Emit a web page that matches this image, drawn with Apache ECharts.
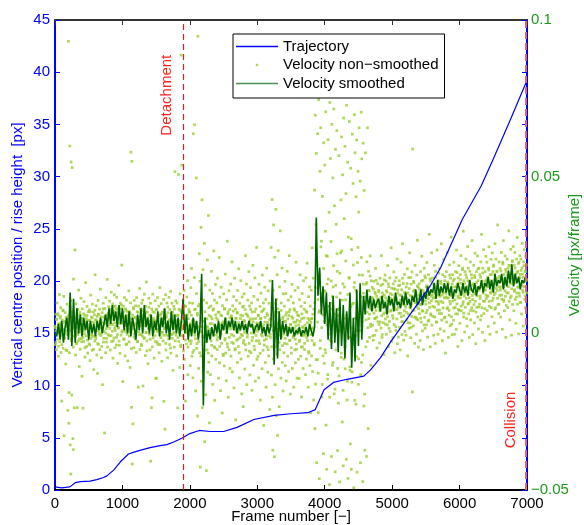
<!DOCTYPE html>
<html>
<head>
<meta charset="utf-8">
<script src="https://cdn.jsdelivr.net/npm/echarts@6/dist/echarts.min.js"></script>
<style>
  html, body { margin: 0; padding: 0; background: #fff; }
  #chart { width: 584px; height: 525px; }
</style>
</head>
<body>
<div id="chart"></div>
<script>
  // raw velocity, one value every 5 frames, in 1e-3 px/frame
  var rawStep = 5;
  var velRaw = [
    2.3,-3.6,6.1,0.8,-5.2,4.4,9.7,-1.9,0.4,5.8,-7.3,3.1,1.6,12.4,-2.7,4.9,-0.6,8.2,-6.1,2.5,
    -21.6,4.2,0.7,7.4,-4.8,1.3,11.8,-32.7,3.5,-1.4,6.6,-0.3,-9.8,5.1,2.2,-5.5,9.3,0.9,-24.6,5.7,
    93.2,-28.7,-18.9,4.6,59.8,-35.6,10.4,-44.9,54.7,-1.8,-19.7,52.9,6.8,-33.6,-37.1,17.3,-0.9,-23.8,5.2,26.6,
    3.2,-6.9,9.4,1.7,-3.3,5.9,-23.7,-0.4,7.6,-2.4,13.8,4.1,-10.6,2.6,6.7,-5.1,0.5,11.2,-1.7,4.8,
    -13.7,7.8,1.4,-23.9,4.3,-2.6,10.1,-0.2,5.7,-7.6,3.3,16.2,-0.8,4.7,-4.2,8.6,1.9,-6.3,2.7,6.9,
    0.6,-3.4,7.5,4.1,-8.7,2.4,12.2,-1.6,5.2,-0.5,-5.4,9.3,3.6,-0.9,6.8,-11.6,1.8,5.9,-2.5,18.7,
    4.3,-1.7,8.8,0.9,-6.9,5.4,-12.8,2.6,10.5,-3.5,6.1,-0.1,7.7,-5.2,1.7,14.1,-0.7,4.2,-7.8,3.4,
    6.6,-16.4,2.3,9.6,-2.8,5.1,0.6,-31.8,7.9,3.2,-6.2,11.4,1.5,-1.6,5.9,17.2,-4.4,4.3,-0.4,8.5,
    5.2,-0.8,10.3,2.8,-5.3,7.6,3.4,13.1,-2.6,6.2,0.7,9.4,-7.9,4.4,6.9,-1.5,12.3,1.6,-4.6,8.7,
    2.4,7.7,-3.7,11.5,5.3,-0.4,-9.6,6.8,1.7,15.3,-2.5,6.1,3.3,-6.4,9.6,4.2,-0.6,7.9,21.8,0.8,
    6.1,-15.4,3.3,8.7,-1.8,5.3,11.4,0.6,-7.2,7.8,2.4,-3.6,10.6,4.3,-0.3,6.9,-8.8,5.1,1.4,13.6,
    -2.7,6.9,3.2,-10.9,9.7,57.8,0.4,-23.6,54.9,-41.7,5.8,-28.9,2.3,7.8,-4.6,10.5,-0.2,5.1,-1.8,8.8,
    3.3,-6.1,11.4,1.5,6.9,-2.6,4.9,-17.2,8.7,0.5,4.1,14.3,-5.2,2.4,7.8,-0.4,-3.5,9.6,5.8,-0.9,
    10.6,-16.8,4.2,7.7,-1.6,12.5,2.4,5.9,-7.1,8.6,0.3,16.4,3.3,-2.4,6.8,4.9,-9.7,1.6,11.2,3.9,
    -0.3,5.8,-5.3,9.6,-40.8,2.2,-23.7,7.7,-20.6,4.1,12.5,-1.5,4.8,0.4,-7.9,6.7,3.1,10.4,-2.6,-14.4,
    3.8,-14.3,7.6,0.6,11.4,-3.5,4.9,1.3,8.7,-6.2,2.2,14.6,-0.5,5.8,-1.4,9.5,3.2,-8.9,6.7,0.4,
    4.7,-2.4,10.8,-21.7,1.5,7.5,-30.6,3.1,12.3,-5.3,5.8,-0.6,9.7,2.2,-7.8,6.6,3.8,-0.7,11.5,1.3,
    -3.6,7.6,2.1,13.4,-6.3,4.8,-0.4,9.6,-1.6,6.7,-11.8,3.2,8.6,0.3,-4.4,5.7,51.6,2.3,10.4,-0.6,
    4.1,-7.2,9.7,1.4,-23.8,5.8,50.7,-2.6,7.7,0.2,-10.9,12.6,3.1,-4.3,88.8,6.7,53.7,-0.8,4.9,2.2,
    10.4,-5.6,2.2,13.7,-8.3,5.8,0.3,-21.6,8.6,3.2,-3.4,11.6,1.3,16.8,-13.2,4.7,-0.5,7.6,-2.4,9.7,
    6.8,-10.3,3.1,14.6,-2.4,20.7,-7.3,3.9,9.6,-14.2,63.7,0.9,-5.4,17.8,66.6,-0.6,7.7,-18.4,2.3,49.6,
    12.7,-3.3,5.8,-26.4,94.8,8.7,-11.2,2.2,25.4,-6.2,16.6,-42.7,0.4,33.8,-15.3,6.6,42.6,-23.7,3.9,20.3,
    -8.4,10.6,-1.3,28.7,-34.6,4.8,15.4,-19.6,2.1,-43.8,9.7,-5.3,23.4,-12.4,1.2,37.6,-9.2,5.7,-28.6,13.8,
    3.1,-13.2,8.7,-2.4,19.8,-7.2,4.6,12.7,-16.3,0.4,7.8,26.3,-4.3,10.6,-21.4,2.2,15.6,-8.3,4.9,-0.5,
    9.7,-5.2,17.6,-1.3,6.7,-14.3,2.9,24.2,-9.4,11.6,-0.6,-18.3,5.8,14.7,-3.2,2.1,-25.4,8.8,3.7,-7.1,
    12.6,1.3,-10.4,7.7,-2.2,18.9,-6.3,4.6,-15.1,10.7,0.2,29.4,-4.3,6.8,-20.4,2.9,13.6,-1.3,7.6,-11.2,
    2.1,15.7,-7.3,5.6,-0.4,22.8,-12.3,8.8,3.9,-3.2,11.7,-17.4,1.2,17.6,-5.3,7.7,-27.6,4.8,10.5,-2.2,
    6.7,-9.3,13.7,0.3,-4.2,20.6,2.8,-14.2,9.6,-1.4,4.7,16.8,-8.2,2.1,-19.3,11.6,-0.7,5.6,-23.4,8.6,
    -2.3,12.6,3.8,-11.4,7.6,24.8,-5.3,1.1,15.7,-16.4,5.9,-0.3,10.6,-7.3,2.8,19.7,-3.2,8.7,-13.3,4.6,
    14.6,-6.2,2.1,9.7,-18.2,6.8,-1.3,21.7,3.6,-10.2,11.8,0.1,-5.2,17.7,-15.3,4.7,7.8,-2.4,27.4,-8.3,
    1.2,10.7,-7.4,5.8,-14.2,15.6,2.9,-3.3,8.6,-21.3,4.7,12.8,-0.4,6.9,-11.3,18.6,1.8,-5.4,9.7,-29.4,
    7.8,-2.2,14.7,3.6,-9.3,10.8,-17.2,0.9,20.8,-4.3,5.7,-12.4,13.6,-0.8,-7.2,9.6,2.7,-24.3,16.7,-1.3,
    4.7,27.4,-13.3,8.6,42.7,-20.4,-37.3,13.7,34.6,-8.2,1.8,-39.4,24.3,-16.4,6.7,39.6,-26.3,10.8,-4.2,18.7,
    -32.6,7.8,26.4,-11.3,2.9,-23.4,14.8,-5.2,32.7,0.8,-14.3,9.7,-1.2,20.8,-9.3,4.7,-18.4,12.6,-0.3,-6.2,
    8.7,-3.2,16.6,-10.3,3.8,12.7,-15.2,6.6,-0.4,19.8,-7.3,1.9,10.6,-12.2,5.7,24.8,-2.3,7.6,-19.4,2.8,
    11.7,-6.3,0.8,15.6,-11.2,4.8,-1.3,9.7,-17.2,7.8,1.6,-5.3,13.7,-9.4,3.6,22.7,-3.4,6.7,-14.3,-0.2,
    5.8,14.6,-8.3,2.7,-14.4,10.8,-2.2,18.7,0.7,-7.3,8.6,-20.3,4.7,12.7,-4.3,1.8,-11.2,16.8,-0.6,7.7,
    -5.2,9.8,2.6,-13.2,17.7,-0.3,-8.2,6.7,22.4,-2.3,4.8,-17.2,11.7,-6.3,0.9,14.8,-10.3,8.7,-25.4,3.6,
    13.8,-7.2,4.7,27.3,-12.2,1.8,17.6,-21.3,7.7,-3.3,45.7,-30.4,69.6,-16.2,34.7,57.4,-41.3,21.6,-8.4,63.7,
    10.8,-25.3,74.6,6.7,-46.4,18.8,51.7,-2.3,65.6,12.7,29.4,1.8,-20.3,43.7,77.6,-7.2,-38.4,60.8,13.6,3.8,
    53.7,-5.2,32.6,70.7,-29.3,6.8,-43.4,15.7,24.6,-13.2,61.8,-0.3,8.7,38.6,-48.3,73.7,-2.2,55.8,9.6,16.7,
    -39.3,66.7,7.8,-10.2,49.6,14.8,3.7,71.6,-19.3,40.7,2.6,-44.2,58.7,-5.3,34.8,11.6,64.7,19.8,-37.4,5.7,
    7.6,-22.3,56.7,0.8,-47.4,75.6,12.8,25.7,42.6,-6.3,62.7,0.4,-28.3,50.6,15.8,-42.3,68.7,-8.2,36.6,4.8,
    59.7,-11.3,10.7,44.6,-40.2,72.8,2.7,-15.3,54.6,-46.3,30.7,4.6,17.8,67.6,-1.3,-11.8,-35.3,52.7,8.8,-43.4,
    26.7,-12.3,63.6,1.7,47.8,9.6,-49.3,14.7,69.8,-21.4,57.6,-0.7,13.8,43.6,-7.4,61.7,-44.3,22.6,5.8,51.7,
    -16.3,38.7,65.6,0.9,6.7,48.6,-41.3,11.7,70.6,-9.3,55.7,3.8,18.6,-47.3,60.7,12.8,-23.2,45.6,7.7,-37.3,
    9.8,57.6,-4.3,15.7,-39.3,22.8,6.7,65.6,1.8,-30.4,19.8,4.7,13.6,-1.3,7.8,24.7,2.9,-10.2,16.8,8.7,
    8.3,14.7,2.6,11.3,-2.2,16.6,6.4,10.2,-0.6,13.1,4.8,20.7,7.3,0.9,11.8,-4.7,9.4,15.8,3.7,10.6,
    13.7,2.8,9.3,-3.1,17.6,7.2,11.4,1.7,24.8,5.6,-1.3,12.9,8.2,15.7,3.4,10.1,-6.8,12.2,6.6,18.6,
    4.6,11.3,16.7,-0.3,8.4,13.2,2.7,21.6,6.8,-4.2,14.9,9.6,3.8,17.7,0.6,11.2,7.4,27.3,-2.6,10.3,
    12.3,5.7,-1.4,15.8,9.2,19.6,2.8,11.3,-6.2,14.1,7.6,0.9,17.8,10.4,4.6,23.7,-3.3,12.8,8.3,15.2,
    6.4,16.8,1.9,12.2,-5.3,10.6,22.7,5.3,13.9,-0.4,9.3,28.6,3.7,15.9,-2.2,11.4,7.2,18.8,0.6,12.7,
    8.3,-0.6,14.8,11.3,4.4,20.6,-7.2,12.9,6.2,17.8,1.6,10.2,25.7,3.3,12.1,-1.4,15.7,9.2,5.4,19.6,
    -18.7,58.8,11.2,2.4,16.6,7.3,13.8,-3.2,21.7,10.3,5.2,12.9,-0.3,18.6,8.4,29.7,4.3,14.8,-4.4,12.2,
    15.8,6.3,11.4,-2.3,19.7,9.2,3.6,13.8,24.6,7.2,0.8,16.9,10.3,-5.2,12.7,20.8,5.1,11.9,1.6,17.7,
    9.3,14.8,2.7,22.6,7.4,-1.2,13.9,11.1,18.7,4.2,31.6,8.3,12.8,-4.3,16.7,6.2,10.4,25.7,2.6,12.3,
    17.6,5.4,11.2,-0.6,15.8,21.7,8.3,12.9,-3.2,19.8,10.2,3.6,14.9,26.6,7.4,12.1,-0.3,16.8,9.3,13.7,
    6.3,20.7,11.8,1.4,15.9,10.2,28.6,4.2,13.8,-2.3,18.7,8.1,12.9,23.6,0.7,11.3,16.8,5.2,-6.3,14.8,
    12.8,19.7,3.6,11.3,25.8,8.2,15.9,-1.3,13.7,7.3,21.8,10.2,2.4,17.6,12.1,30.7,5.3,14.8,-0.4,18.7,
    10.3,16.8,4.2,22.7,12.1,-0.3,14.8,8.2,19.7,12.9,1.3,26.6,9.4,15.8,6.2,-4.2,17.7,11.3,21.6,7.3,
    13.8,3.2,18.7,11.3,24.8,7.2,15.9,-2.3,12.7,20.8,9.3,32.6,5.2,16.8,11.9,0.4,19.7,8.3,14.6,23.7,
    11.2,17.8,2.3,14.9,27.7,9.3,20.8,6.2,12.8,-1.3,16.7,10.2,22.8,4.3,13.9,18.7,8.2,29.6,12.1,-0.4,
    15.8,7.2,21.7,12.9,3.3,17.8,25.6,10.2,-3.3,14.8,19.7,8.3,11.9,24.7,5.2,16.8,1.4,20.8,13.7,9.3,
    18.7,11.9,4.3,22.8,14.9,31.6,8.2,16.7,0.3,20.8,12.8,26.7,6.3,15.8,10.2,-2.3,19.7,13.8,24.6,11.1,
    14.8,22.7,7.3,17.8,11.9,2.2,20.8,27.6,10.2,15.9,-0.3,18.7,12.8,23.6,8.2,16.8,5.3,25.7,13.9,19.7,
    11.2,21.8,15.9,3.3,18.7,28.6,12.9,8.2,23.7,16.8,0.4,19.8,13.7,34.6,9.2,17.7,6.3,22.8,14.9,12.1,
    20.7,13.8,5.2,17.9,25.8,10.9,16.8,1.3,22.7,14.9,29.6,10.2,18.8,7.2,15.9,24.7,11.8,-1.3,19.7,16.8,
    12.9,23.7,17.8,8.2,20.8,14.9,32.7,10.2,18.8,4.3,21.7,15.9,26.8,11.9,-0.6,17.7,22.8,9.2,16.9,27.7,
    15.8,7.2,21.7,13.9,25.8,10.8,18.9,3.2,16.8,23.7,12.9,30.6,9.3,19.8,14.8,-0.2,22.7,17.8,11.9,24.8,
    18.8,9.9,23.7,15.8,6.2,20.9,28.7,13.8,17.9,2.3,22.8,14.9,26.7,10.8,19.8,8.2,24.7,16.8,21.8,12.9
  ];

  // more raw velocity samples from the dense band, every 10 frames starting at frame 3
  var rawStepB = 10, rawStartB = 3;
  var velRawB = [
    1.8,-2.9,4.6,0.2,6.3,-4.1,2.7,-0.8,5.4,3.1,-3.6,1.2,7.2,-1.7,3.9,0.6,-5.3,4.4,2.1,-0.4,
    3.6,-6.2,8.4,0.9,-2.3,5.1,1.7,-4.4,6.6,2.3,-0.9,4.8,-3.1,7.7,0.3,3.5,-1.8,5.9,1.4,-2.7,
    2.9,-1.3,6.2,0.7,-4.6,3.8,1.5,5.7,-2.2,4.1,0.4,-3.7,6.9,2.6,-0.6,4.9,1.1,-5.1,3.3,7.4,
    -1.1,4.2,2.4,-3.3,6.1,0.8,3.7,-0.2,5.3,-4.2,1.9,7.8,-1.6,3.2,5.6,0.1,-2.8,4.5,2.2,6.4,
    4.8,1.6,7.3,-0.7,5.5,2.8,-2.4,8.6,3.4,0.9,6.2,-1.3,4.3,7.9,1.8,-3.8,5.2,3.1,9.1,0.4,
    3.7,6.8,-1.9,4.6,1.2,7.4,-3.4,2.9,5.8,0.6,-0.9,6.3,3.3,-4.9,4.7,1.4,8.2,-1.2,2.6,5.1,
    0.7,4.4,-2.6,6.7,2.1,-0.4,5.3,3.6,-3.9,7.1,1.3,4.9,-1.4,3.2,6.6,0.2,-5.6,4.1,2.7,8.3,
    1.6,-1.9,5.4,3.3,-4.3,6.9,0.8,4.2,-0.7,2.6,7.6,-2.8,3.9,1.1,5.8,-3.6,2.4,6.2,0.3,4.7,
    3.4,-0.6,6.6,1.9,-3.2,5.1,2.7,8.4,-1.8,4.3,0.9,-4.7,6.3,3.1,-0.2,5.6,1.6,7.7,-2.4,3.8,
    2.2,5.7,-1.4,4.1,0.6,7.3,-3.7,3.6,1.3,6.1,-0.8,2.9,8.8,-2.1,4.7,0.2,5.9,-4.4,2.3,6.8,
    1.1,-3.3,5.8,2.4,-6.1,4.2,0.3,7.6,-1.7,3.3,-4.8,6.4,1.9,-2.6,9.3,0.8,-7.2,4.6,2.1,-0.9,
    3.8,-5.4,6.9,0.4,-2.7,4.6,2.1,-6.3,8.2,1.2,-1.4,5.3,-3.8,3.1,7.4,-0.6,2.6,-4.6,5.9,1.7,
    -2.1,4.4,0.9,6.8,-4.2,2.7,-0.3,5.6,3.2,-6.7,1.8,7.9,-1.6,3.6,0.2,-3.3,6.2,2.4,-5.2,4.9,
    1.4,5.2,-2.9,3.7,7.1,-0.8,2.3,-4.9,4.8,0.6,6.5,-1.9,3.4,-6.2,1.1,5.8,-0.4,2.9,8.4,-3.1,
    4.1,0.3,-3.6,6.2,1.8,-1.2,5.4,2.6,-5.7,3.9,7.6,0.1,-2.3,4.6,1.5,-4.1,6.9,2.2,-0.7,3.3,
    0.6,5.7,-2.4,3.1,-6.4,4.8,1.9,-0.9,7.2,2.7,-3.7,5.1,0.4,-1.8,6.3,3.5,-5.2,1.6,4.4,-0.3,
    2.6,-4.3,7.8,0.9,-8.2,5.6,-1.4,9.6,3.2,-6.6,1.3,6.7,-2.9,4.1,-0.6,7.3,2.1,-3.9,5.2,0.7,
    3.9,-1.6,5.8,1.2,-3.4,4.6,0.3,6.9,-2.2,2.8,-4.6,5.3,1.7,-0.8,3.6,7.4,-1.9,2.4,-5.1,4.2,
    1.3,5.6,-2.6,3.8,0.2,-4.4,6.2,2.1,-0.7,4.9,-3.2,1.6,7.1,-1.3,3.4,0.6,-5.8,4.3,2.7,-0.4,
    4.7,-2.3,6.1,1.4,-3.7,9.8,14.6,-8.4,22.3,3.6,-12.7,18.4,7.3,-4.8,27.6,11.2,-16.3,5.9,20.7,-9.6,
    13.4,-6.2,24.8,2.7,-14.6,17.3,8.6,-20.4,4.1,29.3,-2.8,11.7,-9.3,21.6,6.2,-17.8,15.3,0.8,25.4,-11.2,
    7.8,-13.6,19.2,3.4,-7.7,26.3,10.6,-18.2,1.6,14.8,-4.3,23.1,5.7,-21.3,12.4,-1.2,17.6,-10.7,8.3,30.2,
    -15.6,9.4,21.8,-3.6,16.2,4.8,-22.6,13.1,0.9,27.4,-8.1,18.6,6.3,-13.2,24.2,2.4,-6.9,15.7,10.2,-19.4,
    11.6,4.3,16.2,-2.6,9.8,13.7,6.1,18.3,2.2,11.4,7.6,-0.8,14.1,9.3,4.7,12.6,16.9,5.2,10.8,8.4,
    13.2,7.4,3.6,15.3,9.8,-0.4,11.9,6.2,17.1,8.7,2.9,13.6,10.4,5.3,15.8,1.6,9.2,12.7,7.1,14.4,
    10.6,4.8,14.2,8.3,16.7,2.1,11.3,7.6,13.8,-1.2,9.7,15.4,6.4,12.1,3.7,17.6,10.2,5.6,13.1,8.9,
    12.8,6.7,15.9,3.4,10.6,14.3,8.2,17.8,1.9,11.7,7.3,13.4,16.2,5.1,9.8,12.3,4.6,15.1,10.9,7.8,
    14.2,9.3,4.8,16.7,11.2,7.1,13.6,2.7,18.3,10.4,6.6,15.2,12.1,3.9,14.8,9.7,17.4,5.8,11.8,13.3,
    8.6,15.7,11.4,5.2,17.9,12.8,3.6,14.3,10.1,19.2,7.4,13.1,16.6,6.3,12.2,9.8,15.4,4.9,18.1,11.6,
    13.7,7.9,16.4,11.3,5.8,18.6,9.4,14.2,2.9,15.8,12.6,8.1,17.3,10.7,6.2,14.9,19.4,11.8,7.6,16.1,
    12.4,17.2,8.7,14.6,20.3,10.1,6.4,15.9,12.8,18.7,4.7,13.3,16.8,9.6,11.4,19.8,7.3,14.1,17.6,10.8,
    15.3,9.2,18.4,12.6,6.8,16.2,13.9,20.6,8.4,14.7,11.1,17.9,5.6,15.6,19.3,10.3,13.8,7.9,16.7,12.2,
    17.1,11.8,14.9,20.2,8.6,16.3,13.2,18.8,10.4,15.7,21.4,12.3,7.7,17.6,14.4,19.7,11.2,16.1,9.3,18.2,
    14.6,19.9,12.2,16.8,22.1,10.7,17.3,13.6,20.4,8.9,15.8,18.6,12.9,21.7,16.4,11.3,19.1,14.2,23.2,15.9,
    18.3,13.4,20.8,16.1,11.6,19.4,14.7,22.3,12.8,17.6,9.9,20.1,15.3,18.9,13.1,21.6,16.6,11.9,19.7,17.2
  ];

  // smoothed velocity, one value every 25 frames, in 1e-3 px/frame
  var smoothStep = 25;
  var velSmooth = [
    0,-1,3,-2,4,-3,2,5,
    -2,13,-4,11,-3,8,0,6,
    -1,5,1,4,-2,4,0,3,
    -1,4,1,5,0,3,6,2,
    8,3,9,4,7,2,9,3,
    8,1,6,0,7,-1,5,2,
    -2,6,1,8,0,9,2,5,
    0,6,-1,4,1,7,-1,5,
    2,8,0,4,-2,7,1,6,
    0,5,-1,4,11,0,6,-2,
    3,-1,5,0,4,-2,2,19,
    -23,5,-3,1,-2,2,-1,3,
    0,4,-2,3,1,5,0,4,
    2,5,1,4,0,3,1,4,
    1,3,0,4,2,3,0,2,
    3,1,4,0,2,-1,3,0,
    2,17,-10,11,-8,7,-2,4,
    0,3,-1,2,0,2,-1,1,
    0,2,-1,1,0,2,-1,3,
    1,-1,2,37,12,21,6,15,
    3,13,-2,10,-5,12,-3,8,
    -6,11,-4,9,-8,7,-2,13,
    -11,5,-9,14,-4,16,-2,12,
    6,14,8,12,7,11,8,10,
    11,7,12,8,10,6,12,9,
    11,7,13,9,10,8,12,9,
    13,9,11,8,12,10,14,9,
    10,14,9,13,11,15,12,14,
    13,16,11,17,12,15,13,16,
    13,16,12,15,11,14,13,16,
    14,12,16,13,15,12,17,14,
    13,16,12,15,14,17,13,16,
    15,18,14,17,13,19,15,17,
    16,19,14,18,15,20,16,22,
    15,19,16,18,14,17,16,18
  ];

  // trajectory (vertical centre position, px)
  var trajFrame = [0,100,220,300,380,520,620,720,770,870,970,1090,1160,1260,1410,1560,1660,1760,1880,2000,
                   2140,2300,2500,2700,2950,3250,3500,3750,3860,3990,4130,4330,4580,4680,4830,4980,5320,5570,5720,6040,
                   6320,6500,6750,6985];
  var trajPx    = [0.3,0.2,0.3,0.7,0.8,0.85,1.0,1.2,1.35,1.9,2.7,3.45,3.6,3.8,4.05,4.25,4.35,4.6,4.95,5.4,
                   5.7,5.6,5.6,6.0,6.75,7.15,7.3,7.4,7.7,9.6,10.3,10.6,10.9,11.5,12.7,14.2,17.3,19.6,21.3,25.9,
                   29.1,31.7,35.4,39.0];

  var detachFrame = 1900;
  var collisionFrame = 6985;

  var font = '"Liberation Sans", Arial, Helvetica, sans-serif';
  var blue = '#0000ff';
  var green = '#1a9a1a';
  var lineIcon = 'path://M0,0h42v1.4h-42z';
  var dotIcon = 'path://M0,0L0,0M42,12L42,12M19.8,4.8L22.2,4.8L22.2,7.2L19.8,7.2Z';

  var rawPoints = velRaw.map(function (v, i) { return [i * rawStep, v / 1000]; })
    .concat(velRawB.map(function (v, i) { return [rawStartB + i * rawStepB, v / 1000]; }));

  var chart = echarts.init(document.getElementById('chart'));

  var option = {
    animation: false,
    grid: { left: 55, right: 57, top: 20, bottom: 35, containLabel: false, outerBoundsMode: 'none' },
    legend: {
      orient: 'vertical',
      left: 233,
      top: 34,
      backgroundColor: '#fff',
      borderColor: '#000',
      borderWidth: 1,
      borderRadius: 0,
      padding: [5, 6, 7, 3],
      itemWidth: 42,
      itemHeight: 12,
      itemGap: 3.5,
      selectedMode: false,
      textStyle: { fontSize: 15, fontFamily: font, color: '#000', lineHeight: 15 },
      data: [
        { name: 'Trajectory', icon: lineIcon },
        { name: 'Velocity non−smoothed', icon: dotIcon },
        { name: 'Velocity smoothed', icon: lineIcon, itemStyle: { color: '#4f8f4f' } }
      ]
    },
    xAxis: [{
      type: 'value', min: 0, max: 7000, interval: 1000, position: 'bottom',
      axisLine: { onZero: false, lineStyle: { color: '#000', width: 2 } },
      axisTick: { inside: true, length: 5, lineStyle: { color: '#000' } },
      axisLabel: { color: '#000', fontSize: 15, fontFamily: font, margin: 6,
        formatter: function (v) { return String(v); } },
      splitLine: { show: false },
      name: 'Frame number [−]', nameLocation: 'middle', nameGap: 19, nameMoveOverlap: false,
      nameTextStyle: { color: '#000', fontSize: 15, fontFamily: font }
    }, {
      type: 'value', min: 0, max: 7000, interval: 1000, position: 'top',
      axisLine: { onZero: false, lineStyle: { color: '#333', width: 2 } },
      axisTick: { inside: true, length: 5, lineStyle: { color: '#333' } },
      axisLabel: { show: false },
      splitLine: { show: false }
    }],
    yAxis: [{
      type: 'value', min: 0, max: 45, interval: 5, position: 'left',
      axisLine: { show: true, onZero: false, lineStyle: { color: blue, width: 2 } },
      axisTick: { show: true, inside: true, length: 5, lineStyle: { color: blue } },
      axisLabel: { color: blue, fontSize: 15, fontFamily: font, margin: 5 },
      splitLine: { show: false },
      name: 'Vertical centre position / rise height  [px]', nameLocation: 'middle', nameGap: 30, nameRotate: 90,
      nameMoveOverlap: false,
      nameTextStyle: { color: blue, fontSize: 15, fontFamily: font }
    }, {
      type: 'value', min: -0.05, max: 0.1, interval: 0.05, position: 'right',
      axisLine: { show: false, onZero: false },
      axisTick: { show: true, inside: true, length: 5, lineStyle: { color: green } },
      axisLabel: {
        color: green, fontSize: 15, fontFamily: font, margin: 4,
        formatter: function (v) { return String(+v.toFixed(2)).replace('-', '−'); }
      },
      splitLine: { show: false },
      name: 'Velocity [px/frame]', nameLocation: 'middle', nameGap: 40, nameRotate: 90,
      nameMoveOverlap: false,
      nameTextStyle: { color: green, fontSize: 15, fontFamily: font }
    }, {
      type: 'value', min: 0, max: 45, interval: 5, position: 'right',
      axisLine: { show: true, onZero: false, lineStyle: { color: blue, width: 2 } },
      axisTick: { show: true, inside: true, length: 5, lineStyle: { color: blue } },
      axisLabel: { show: false },
      splitLine: { show: false }
    }],
    series: [{
      name: 'Velocity non−smoothed',
      type: 'scatter',
      xAxisIndex: 0, yAxisIndex: 1,
      symbol: 'rect', symbolSize: 2.7,
      itemStyle: { color: '#9acd32' },
      silent: true,
      z: 1,
      data: rawPoints
    }, {
      name: 'Velocity smoothed',
      type: 'line',
      xAxisIndex: 0, yAxisIndex: 1,
      symbol: 'none',
      color: '#006400',
      lineStyle: { color: '#006400', width: 1.6 },
      silent: true,
      z: 2,
      data: velSmooth.map(function (v, i) { return [i * smoothStep, v / 1000]; })
    }, {
      name: 'Trajectory',
      type: 'line',
      xAxisIndex: 0, yAxisIndex: 0,
      symbol: 'none',
      color: blue,
      lineStyle: { color: blue, width: 1.2 },
      silent: true,
      z: 3,
      data: trajFrame.map(function (f, i) { return [f, trajPx[i]]; }),
      markLine: {
        symbol: 'none', silent: true, animation: false,
        label: { show: false },
        data: [
          { xAxis: detachFrame, lineStyle: { color: '#e02020', type: [6, 4], width: 1.2 } },
          { xAxis: collisionFrame, lineStyle: { color: '#f06060', type: [7, 4], width: 2 } }
        ]
      }
    }]
  };

  chart.setOption(option);

  // event labels next to the dashed lines
  var pDetach = chart.convertToPixel({ xAxisIndex: 0, yAxisIndex: 0 }, [detachFrame, 37.8]);
  var pCollide = chart.convertToPixel({ xAxisIndex: 0, yAxisIndex: 0 }, [collisionFrame, 6.7]);
  chart.setOption({
    graphic: [{
      type: 'text', x: pDetach[0] - 16, y: pDetach[1], rotation: Math.PI / 2, z: 10,
      style: { text: 'Detachment', fill: '#ff2020', fontSize: 15, fontFamily: font, align: 'center', verticalAlign: 'middle' }
    }, {
      type: 'text', x: pCollide[0] - 15, y: pCollide[1], rotation: Math.PI / 2, z: 10,
      style: { text: 'Collision', fill: '#ff2020', fontSize: 15, fontFamily: font, align: 'center', verticalAlign: 'middle' }
    }]
  });
</script>
</body>
</html>
